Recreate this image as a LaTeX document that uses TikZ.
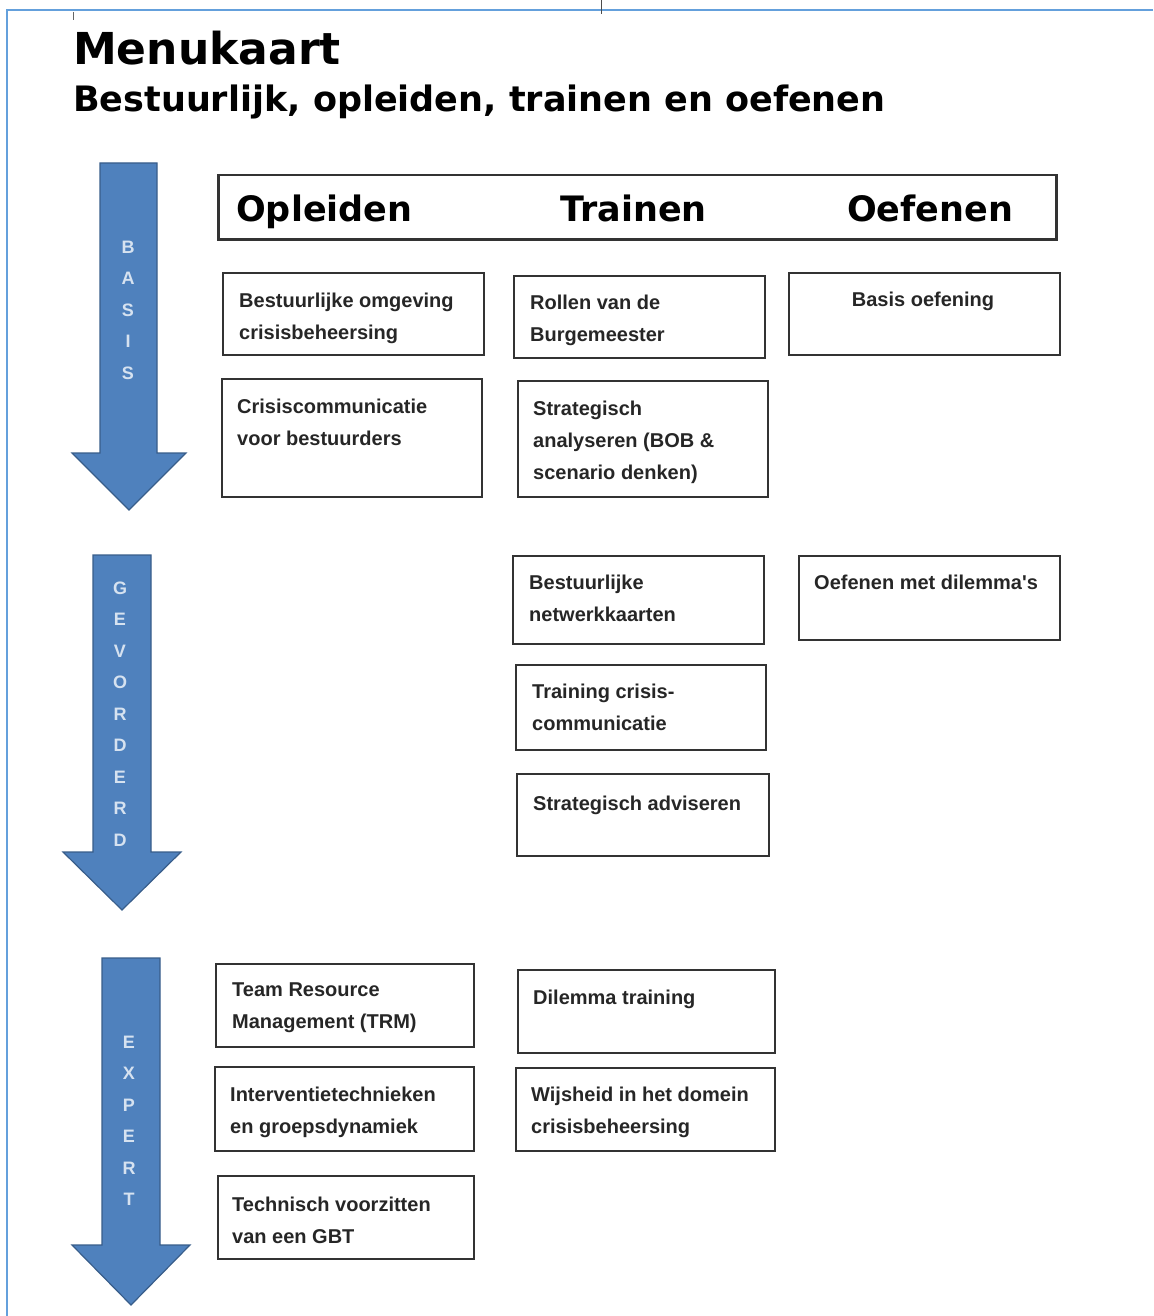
\documentclass[tikz,border=0pt]{standalone}
\usepackage{fontspec}
\setmainfont{Liberation Sans}
\newfontfamily\verdanafont{DejaVu Sans}
\usepackage{tikz}
\usetikzlibrary{positioning}
\definecolor{arrowblue}{RGB}{79,129,189}
\definecolor{arrowedge}{RGB}{56,93,138}
\definecolor{frameblue}{RGB}{100,160,220}
\definecolor{lettergray}{RGB}{214,226,240}
\tikzset{
	menubox/.style={draw=black!80, line width=1.5pt, anchor=north west, inner sep=0pt}
}
\tikzset{
	boxtext/.style={font=\bfseries\fontsize{20}{32}\selectfont, text=black!85, align=left, inner sep=0pt}
}
\tikzset{
	levelarrow/.style={fill=arrowblue, draw=arrowedge, line width=1.2pt, line join=miter}
}
\tikzset{
	arrowtext/.style={font=\bfseries\fontsize{18}{31.5}\selectfont, text=lettergray, align=center, inner sep=0pt}
}
\tikzset{
	headword/.style={anchor=base west, inner sep=0pt, font=\verdanafont\bfseries\fontsize{35}{40}\selectfont}
}

\begin{document}
\begin{tikzpicture}[x=1pt, y=-1pt]
      \useasboundingbox (0,0) rectangle (1153,1316);
      \draw[frameblue, line width=1.5pt] (1153,10) -- (7,10) -- (7,1316);
      \draw[black!70, line width=1pt] (601,0) -- (601,14);
      \draw[black!60, line width=1pt] (73,12) -- (73,20);

      \node[anchor=base west, inner sep=0pt, font=\verdanafont\bfseries\fontsize{44}{50}\selectfont] (title) at (73,65) {Menukaart};
      \node[anchor=base west, inner sep=0pt, font=\verdanafont\bfseries\fontsize{35}{40}\selectfont] (subtitle) at (73,112) {Bestuurlijk, opleiden, trainen en oefenen};

      \draw[levelarrow] (100,163) -- (157,163) -- (157,453) -- (186,453) -- (129,510) -- (72,453) -- (100,453) -- cycle;
      \draw[levelarrow] (93,555) -- (151,555) -- (151,852) -- (181,852) -- (122,910) -- (63,852) -- (93,852) -- cycle;
      \draw[levelarrow] (102,958) -- (160,958) -- (160,1245) -- (190,1245) -- (131,1305) -- (72,1245) -- (102,1245) -- cycle;
      \node[arrowtext] (basis) at (128,310) {B\\A\\S\\I\\S};
      \node[arrowtext] (gevorderd) at (120,714) {G\\E\\V\\O\\R\\D\\E\\R\\D};
      \node[arrowtext] (expert) at (129,1121) {E\\X\\P\\E\\R\\T};

      \node[menubox, line width=2.5pt, minimum width=838pt, minimum height=64pt] (head) at (217,174) {};
      \node[headword] (opleiden) at (236,221) {Opleiden};
      \node[headword] (trainen) at (560,221) {Trainen};
      \node[headword] (oefenen) at (847,221) {Oefenen};

      \node[menubox, minimum width=261pt, minimum height=82pt] (opl1) at (222,272) {};
      \node[boxtext, below right=21pt and 17pt of opl1.north west] (opl1t) {Bestuurlijke omgeving\\crisisbeheersing};
      \node[menubox, minimum width=260pt, minimum height=118pt] (opl2) at (221,378) {};
      \node[boxtext, below right=21pt and 16pt of opl2.north west] (opl2t) {Crisiscommunicatie\\voor bestuurders};

      \node[menubox, minimum width=251pt, minimum height=82pt] (tra1) at (513,275) {};
      \node[boxtext, below right=20pt and 17pt of tra1.north west] (tra1t) {Rollen van de\\Burgemeester};
      \node[menubox, minimum width=250pt, minimum height=116pt] (tra2) at (517,380) {};
      \node[boxtext, below right=21pt and 16pt of tra2.north west] (tra2t) {Strategisch\\analyseren (BOB \&\\scenario denken)};

      \node[menubox, minimum width=271pt, minimum height=82pt] (oef1) at (788,272) {};
      \node[boxtext, anchor=north] (oef1t) at (923,292) {Basis oefening};

      \node[menubox, minimum width=251pt, minimum height=88pt] (tra3) at (512,555) {};
      \node[boxtext, below right=20pt and 17pt of tra3.north west] (tra3t) {Bestuurlijke\\netwerkkaarten};
      \node[menubox, minimum width=250pt, minimum height=85pt] (tra4) at (515,664) {};
      \node[boxtext, below right=20pt and 17pt of tra4.north west] (tra4t) {Training crisis-\\communicatie};
      \node[menubox, minimum width=252pt, minimum height=82pt] (tra5) at (516,773) {};
      \node[boxtext, below right=23pt and 17pt of tra5.north west] (tra5t) {Strategisch adviseren};

      \node[menubox, minimum width=261pt, minimum height=84pt] (oef2) at (798,555) {};
      \node[boxtext, below right=20pt and 16pt of oef2.north west] (oef2t) {Oefenen met dilemma\textquotesingle s};

      \node[menubox, minimum width=258pt, minimum height=83pt] (opl3) at (215,963) {};
      \node[boxtext, below right=20pt and 17pt of opl3.north west] (opl3t) {Team Resource\\Management (TRM)};
      \node[menubox, minimum width=259pt, minimum height=84pt] (opl4) at (214,1066) {};
      \node[boxtext, below right=21pt and 16pt of opl4.north west] (opl4t) {Interventietechnieken\\en groepsdynamiek};
      \node[menubox, minimum width=256pt, minimum height=83pt] (opl5) at (217,1175) {};
      \node[boxtext, below right=22pt and 15pt of opl5.north west] (opl5t) {Technisch voorzitten\\van een GBT};

      \node[menubox, minimum width=257pt, minimum height=83pt] (tra6) at (517,969) {};
      \node[boxtext, below right=21pt and 16pt of tra6.north west] (tra6t) {Dilemma training};
      \node[menubox, minimum width=259pt, minimum height=83pt] (tra7) at (515,1067) {};
      \node[boxtext, below right=20pt and 16pt of tra7.north west] (tra7t) {Wijsheid in het domein\\crisisbeheersing};
    \end{tikzpicture}
\end{document}
